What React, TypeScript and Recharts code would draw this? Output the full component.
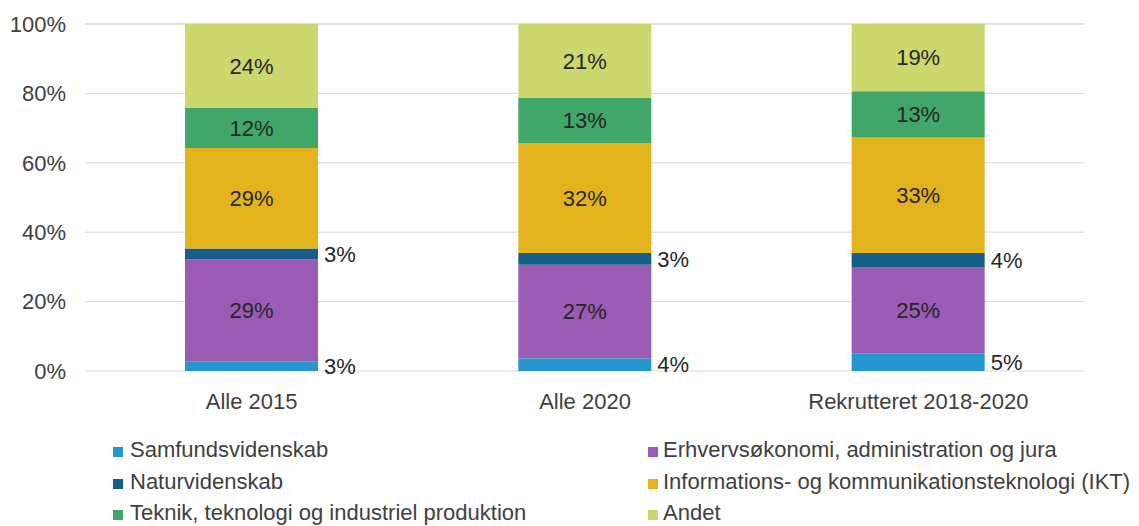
import { BarChart, Bar, XAxis, YAxis, CartesianGrid, Legend, LabelList } from 'recharts'

const categories = ['Alle 2015', 'Alle 2020', 'Rekrutteret 2018-2020']

const samfund = [2.7, 3.7, 5.1]
const erhverv = [29.4, 26.9, 24.9]
const natur = [3.2, 3.4, 4.0]
const ikt = [29.0, 31.7, 33.3]
const teknik = [11.5, 13.1, 13.3]
const andet = [24.2, 21.2, 19.4]

const yTicks = [0, 20, 40, 60, 80, 100]

const series = [
  { key: 'samfund', name: 'Samfundsvidenskab', values: samfund, color: '#2596CE', outside: true },
  { key: 'erhverv', name: 'Erhvervsøkonomi, administration og jura', values: erhverv, color: '#9A5BB4', outside: false },
  { key: 'natur', name: 'Naturvidenskab', values: natur, color: '#175E86', outside: true },
  { key: 'ikt', name: 'Informations- og kommunikationsteknologi (IKT)', values: ikt, color: '#E3B31D', outside: false },
  { key: 'teknik', name: 'Teknik, teknologi og industriel produktion', values: teknik, color: '#41A66A', outside: false },
  { key: 'andet', name: 'Andet', values: andet, color: '#CCD76E', outside: false },
]

const data = categories.map((c, i) => {
  const row: any = { name: c }
  series.forEach((s) => (row[s.key] = s.values[i]))
  return row
})

const FONT = '"Liberation Sans", Arial, sans-serif'
const FS = 22

const pct = (v: any) => `${Math.round(Number(v))}%`

// legend laid out in two columns like the original
const LegendBox = () => (
  <div style={{ position: 'relative', width: 1139, height: 100, fontFamily: FONT, fontSize: FS, color: '#404040' }}>
    {series.map((s, i) => {
      const col = i % 2
      const row = Math.floor(i / 2)
      const left = col === 0 ? 113 : 648
      const top = 8 + row * 31.5
      return (
        <div key={s.key} style={{ position: 'absolute', left, top, height: 32, display: 'flex', alignItems: 'center', whiteSpace: 'nowrap' }}>
          <span style={{ display: 'inline-block', width: 10, height: 10, background: s.color, marginRight: col === 0 ? 7 : 5, marginTop: 4 }} />
          <span>{s.name}</span>
        </div>
      )
    })}
  </div>
)

export default function App() {
  return (
    <div style={{ position: 'absolute', left: 0, top: 0 }}>
      <BarChart
        width={1139}
        height={526}
        data={data}
        margin={{ top: 24, right: 54, left: 0, bottom: 0 }}
        barCategoryGap="30%"
      >
        <CartesianGrid vertical={false} stroke="#D9D9D9" strokeWidth={1} />
        <XAxis
          dataKey="name"
          axisLine={false}
          tickLine={false}
          tickSize={0}
          tickMargin={22}
          height={55}
          tick={{ fill: '#404040', fontSize: FS, fontFamily: FONT }}
          interval={0}
        />
        <YAxis
          domain={[0, 100]}
          ticks={yTicks}
          width={85}
          axisLine={false}
          tickLine={false}
          tickSize={0}
          tickMargin={19}
          tickFormatter={(v) => `${v}%`}
          tick={{ fill: '#404040', fontSize: FS, fontFamily: FONT }}
        />
        <Legend verticalAlign="bottom" align="left" wrapperStyle={{ left: 0, bottom: 0, width: 1139, height: 100 }} content={<LegendBox />} />
        {series.map((s) => (
          <Bar key={s.key} dataKey={s.key} name={s.name} stackId="a" fill={s.color} isAnimationActive={false}>
            <LabelList
              dataKey={s.key}
              position={s.outside ? 'right' : 'center'}
              offset={6}
              formatter={pct}
              fill="#262626"
              fontSize={FS}
              fontFamily={FONT}
            />
          </Bar>
        ))}
      </BarChart>
    </div>
  )
}
